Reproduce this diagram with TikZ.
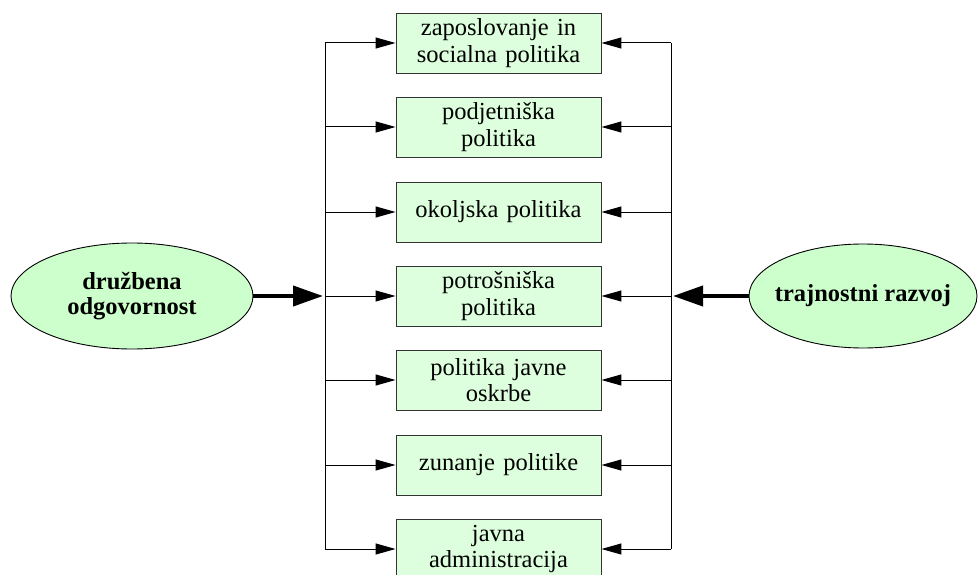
\documentclass[tikz,border=0pt]{standalone}
\usepackage{fontspec}
\setmainfont{Liberation Serif}
\usetikzlibrary{arrows.meta,shapes.geometric}
\definecolor{boxfill}{HTML}{DDFFDD}
\definecolor{ellfill}{HTML}{CCFFCC}
\definecolor{boxdraw}{HTML}{333333}
\tikzset{
  polbox/.style={draw=boxdraw, line width=0.9pt, fill=boxfill, minimum width=205pt, minimum height=60pt, inner sep=0pt, text width=205pt, align=center, font=\fontsize{24.5}{26.5}\selectfont},
  bigell/.style={ellipse, draw=black, line width=0.9pt, fill=ellfill, inner xsep=-20pt, inner ysep=0pt, align=center, font=\fontsize{24.5}{25.5}\selectfont\bfseries},
  thin/.style={line width=1pt, draw=black},
  tip/.style={-{Triangle[length=20pt,width=11pt]}},
  thick/.style={line width=4pt, -{Triangle[length=30pt,width=20pt]}}
}
\begin{document}
\begin{tikzpicture}[x=1pt,y=-1pt]
\useasboundingbox (0,0) rectangle (980,575);
\clip (0,0) rectangle (980,575);
\node[polbox] (b1) at (498.5,43) {zaposlovanje in\\socialna politika};
\node[polbox] (b2) at (498.5,127) {podjetniška\\politika};
\node[polbox] (b3) at (498.5,212) {okoljska politika};
\node[polbox] (b4) at (498.5,296) {potrošniška\\politika};
\node[polbox] (b5) at (498.5,380) {politika javne\\oskrbe};
\node[polbox] (b6) at (498.5,465) {zunanje politike};
\node[polbox] (b7) at (498.5,549) {javna\\administracija};
\node[bigell, minimum width=242pt, minimum height=106pt] (e1) at (132,296) {družbena\\odgovornost};
\node[bigell, minimum width=228pt, minimum height=104pt] (e2) at (863,296) {trajnostni razvoj};
\coordinate (lt) at (325,43);
\coordinate (lb) at (325,549);
\coordinate (rt) at (671,43);
\coordinate (rb) at (671,549);
\coordinate (lm) at (325,296);
\coordinate (rm) at (671,296);
\draw[thin] (lt) -- (lb);
\draw[thin] (rt) -- (rb);
\foreach \b in {b1,b2,b3,b4,b5,b6,b7}{
  \draw[thin,tip] (lt |- \b.west) -- (\b.west);
  \draw[thin,tip] (rt |- \b.east) -- (\b.east);
}
\draw[thick] (e1.east) -- ([xshift=-2pt]lm);
\draw[thick] (e2.west) -- ([xshift=2pt]rm);
\end{tikzpicture}
\end{document}
